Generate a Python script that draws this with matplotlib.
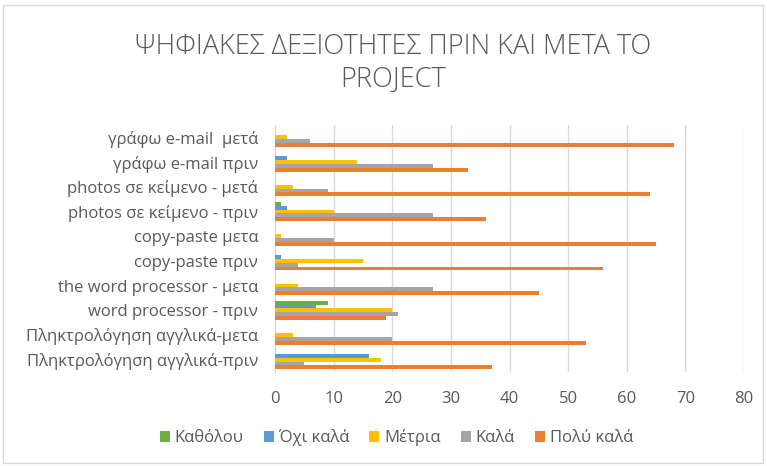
import numpy as np
import matplotlib
matplotlib.use("Agg")
import matplotlib.pyplot as plt
from matplotlib.patches import Rectangle

plt.rcParams['font.family'] = ['Open Sans', 'DejaVu Sans']

# κατηγορίες από κάτω προς τα πάνω
categories = [
    "Πληκτρολόγηση αγγλικά-πριν",
    "Πληκτρολόγηση αγγλικά-μετα",
    "word processor - πριν",
    "the word processor - μετα",
    "copy-paste πριν",
    "copy-paste μετα",
    "photos σε κείμενο - πριν",
    "photos σε κείμενο - μετά",
    "γράφω e-mail πριν",
    "γράφω e-mail  μετά",
]

series_names = ["Καθόλου", "Όχι καλά", "Μέτρια", "Καλά", "Πολύ καλά"]
series_colors = ["#70ad47", "#5b9bd5", "#ffc000", "#a5a5a5", "#ed7d31"]

katholou = [0, 0, 9, 0, 0, 0, 1, 0, 0, 0]
oxi_kala = [16, 0, 7, 0, 1, 0, 2, 0, 2, 0]
metria = [18, 3, 20, 4, 15, 1, 10, 3, 14, 2]
kala = [5, 20, 21, 27, 4, 10, 27, 9, 27, 6]
poly_kala = [37, 53, 19, 45, 56, 65, 36, 64, 33, 68]

values = [katholou, oxi_kala, metria, kala, poly_kala]

fig = plt.figure(figsize=(7.67, 4.66), dpi=100)
ax = fig.add_axes([275 / 767, 1 - 372 / 466, (744 - 275) / 767, (372 - 125) / 466])

y = np.arange(len(categories))
h = 0.155
for i, (name, vals, col) in enumerate(zip(series_names, values, series_colors)):
    ax.barh(y + (2 - i) * h, vals, height=h, color=col, label=name, zorder=3)

ax.set_xlim(0, 80)
ax.set_ylim(-0.5, len(categories) - 0.5)
ax.set_xticks(range(0, 81, 10))
ax.set_yticks(y)
ax.set_yticklabels(categories)
ax.grid(axis='x', color='#d9d9d9', linewidth=1, zorder=0)
for s in ['top', 'right', 'bottom']:
    ax.spines[s].set_visible(False)
ax.spines['left'].set_color('#d9d9d9')
ax.tick_params(axis='both', length=0, labelsize=12, colors='#595959')
ax.tick_params(axis='x', pad=14)
ax.tick_params(axis='y', pad=12)

fig.text(0.512, 1 - 47 / 466, "ΨΗΦΙΑΚΕΣ ΔΕΞΙΟΤΗΤΕΣ ΠΡΙΝ ΚΑΙ ΜΕΤΑ ΤΟ", ha='center', va='center',
         fontsize=19.5, color='#595959', fontweight='light')
fig.text(0.512, 1 - 80 / 466, "PROJECT", ha='center', va='center',
         fontsize=19.5, color='#595959', fontweight='light')

handles, labels = ax.get_legend_handles_labels()
fig.legend(handles, labels, loc='center', bbox_to_anchor=(0.517, 1 - 438 / 466), ncol=5,
           frameon=False, fontsize=12, labelcolor='#595959', handlelength=0.6,
           handleheight=0.6, handletextpad=0.3, columnspacing=1.2)

fig.patches.append(Rectangle((3 / 767, 3 / 466), 760 / 767, 458 / 466, transform=fig.transFigure,
                             fill=False, edgecolor='#d9d9d9', linewidth=1))

fig.savefig("out.png", dpi=100)
